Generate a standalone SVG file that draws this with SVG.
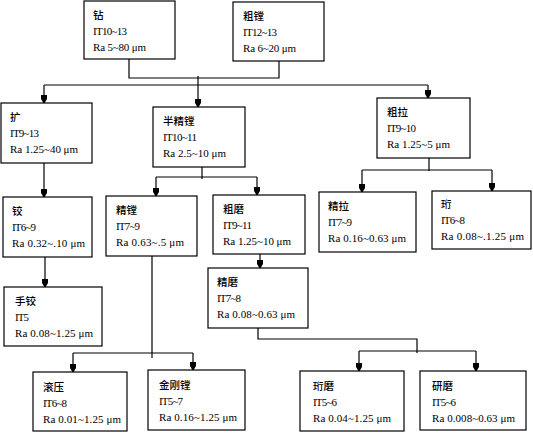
<svg xmlns="http://www.w3.org/2000/svg" width="533" height="434" viewBox="0 0 533 434">
<style>
.box{fill:#fff;stroke:#000;stroke-width:1.2}
.ln{fill:none;stroke:#000;stroke-width:1.2}
.arr{marker-end:url(#ah)}
text{font-family:"Liberation Serif","Noto Sans CJK SC",serif;font-size:11px;fill:#000}
text.zh{font-family:"Noto Sans CJK SC","Liberation Serif",sans-serif;font-size:10.5px;font-weight:500}
</style>
<defs>
<marker id="ah" markerUnits="userSpaceOnUse" markerWidth="10" markerHeight="10" viewBox="0 -5 9 10" refX="8" refY="0" orient="auto">
<path d="M0,-3 L4,-3 L8,-0.6 L8,0.6 L4,3 L0,3 Z" fill="#000"/>
</marker>
</defs>
<rect width="533" height="434" fill="#fff"/>
<g id="connectors">
<path class="ln" d="M129,59 V78 H279 V61"/>
<path class="ln arr" d="M198,76 V107"/>
<path class="ln" d="M44,85 H428"/>
<path class="ln arr" d="M44,85 V103"/>
<path class="ln arr" d="M428,85 V98"/>
<path class="ln arr" d="M44,163 V197"/>
<path class="ln arr" d="M45,257 V287"/>
<path class="ln" d="M202,167 V179"/>
<path class="ln" d="M156,177 H257"/>
<path class="ln arr" d="M156,177 V196"/>
<path class="ln arr" d="M257,177 V195"/>
<path class="ln arr" d="M260,254 V268"/>
<path class="ln" d="M429,158 V171"/>
<path class="ln" d="M362,170 H492"/>
<path class="ln arr" d="M362,170 V192"/>
<path class="ln arr" d="M492,170 V191"/>
<path class="ln" d="M152,256 V358"/>
<path class="ln" d="M73,353 H193"/>
<path class="ln arr" d="M73,353 V372"/>
<path class="ln arr" d="M193,353 V370"/>
<path class="ln" d="M258,328 V339 H417 V353"/>
<path class="ln" d="M359,351 H476"/>
<path class="ln arr" d="M359,351 V371"/>
<path class="ln arr" d="M476,351 V371"/>
</g>
<g id="n-zuan"><rect class="box" x="84" y="1" width="91" height="58"/><text class="zh" x="93" y="19">钻</text><text x="93" y="35" textLength="34" lengthAdjust="spacing">IT10~13</text><text x="93" y="51" textLength="53" lengthAdjust="spacing">Ra 5~80 μm</text></g>
<g id="n-cutang"><rect class="box" x="233" y="2" width="91" height="59"/><text class="zh" x="243" y="20">粗镗</text><text x="243" y="36" textLength="34" lengthAdjust="spacing">IT12~13</text><text x="243" y="52" textLength="53" lengthAdjust="spacing">Ra 6~20 μm</text></g>
<g id="n-kuo"><rect class="box" x="1" y="103" width="91" height="60"/><text class="zh" x="10" y="121">扩</text><text x="10" y="137" textLength="29" lengthAdjust="spacing">IT9~13</text><text x="10" y="153" textLength="68" lengthAdjust="spacing">Ra 1.25~40 μm</text></g>
<g id="n-banjingtang"><rect class="box" x="153" y="107" width="92" height="60"/><text class="zh" x="163" y="125">半精镗</text><text x="163" y="141" textLength="34" lengthAdjust="spacing">IT10~11</text><text x="163" y="157" textLength="63" lengthAdjust="spacing">Ra 2.5~10 μm</text></g>
<g id="n-cula"><rect class="box" x="377" y="98" width="93" height="60"/><text class="zh" x="387" y="116">粗拉</text><text x="387" y="132" textLength="29" lengthAdjust="spacing">IT9~10</text><text x="387" y="148" textLength="63" lengthAdjust="spacing">Ra 1.25~5 μm</text></g>
<g id="n-jiao"><rect class="box" x="3" y="197" width="89" height="60"/><text class="zh" x="12" y="215">铰</text><text x="12" y="231" textLength="24" lengthAdjust="spacing">IT6~9</text><text x="12" y="247" textLength="73" lengthAdjust="spacing">Ra 0.32~.10 μm</text></g>
<g id="n-jingtang"><rect class="box" x="106" y="196" width="91" height="60"/><text class="zh" x="116" y="214">精镗</text><text x="116" y="230" textLength="24" lengthAdjust="spacing">IT7~9</text><text x="116" y="246" textLength="68" lengthAdjust="spacing">Ra 0.63~.5 μm</text></g>
<g id="n-cumo"><rect class="box" x="213" y="195" width="92" height="59"/><text class="zh" x="223" y="213">粗磨</text><text x="223" y="229" textLength="29" lengthAdjust="spacing">IT9~11</text><text x="223" y="245" textLength="68" lengthAdjust="spacing">Ra 1.25~10 μm</text></g>
<g id="n-jingla"><rect class="box" x="319" y="192" width="97" height="60"/><text class="zh" x="328" y="210">精拉</text><text x="328" y="226" textLength="24" lengthAdjust="spacing">IT7~9</text><text x="328" y="242" textLength="78" lengthAdjust="spacing">Ra 0.16~0.63 μm</text></g>
<g id="n-heng"><rect class="box" x="432" y="191" width="99" height="58"/><text class="zh" x="441" y="208">珩</text><text x="441" y="224" textLength="24" lengthAdjust="spacing">IT6~8</text><text x="441" y="240" textLength="83" lengthAdjust="spacing">Ra 0.08~.1.25 μm</text></g>
<g id="n-shoujiao"><rect class="box" x="4" y="287" width="98" height="59"/><text class="zh" x="15" y="305">手铰</text><text x="15" y="321" textLength="14" lengthAdjust="spacing">IT5</text><text x="15" y="337" textLength="78" lengthAdjust="spacing">Ra 0.08~1.25 μm</text></g>
<g id="n-jingmo"><rect class="box" x="208" y="268" width="100" height="60"/><text class="zh" x="217" y="286">精磨</text><text x="217" y="302" textLength="24" lengthAdjust="spacing">IT7~8</text><text x="217" y="318" textLength="78" lengthAdjust="spacing">Ra 0.08~0.63 μm</text></g>
<g id="n-gunya"><rect class="box" x="33" y="372" width="94" height="59"/><text class="zh" x="43" y="391">滚压</text><text x="43" y="407" textLength="24" lengthAdjust="spacing">IT6~8</text><text x="43" y="423" textLength="78" lengthAdjust="spacing">Ra 0.01~1.25 μm</text></g>
<g id="n-jingangtang"><rect class="box" x="148" y="370" width="97" height="60"/><text class="zh" x="159" y="389">金刚镗</text><text x="159" y="405" textLength="24" lengthAdjust="spacing">IT5~7</text><text x="159" y="421" textLength="78" lengthAdjust="spacing">Ra 0.16~1.25 μm</text></g>
<g id="n-hengmo"><rect class="box" x="300" y="371" width="104" height="60"/><text class="zh" x="313" y="390">珩磨</text><text x="313" y="406" textLength="24" lengthAdjust="spacing">IT5~6</text><text x="313" y="422" textLength="78" lengthAdjust="spacing">Ra 0.04~1.25 μm</text></g>
<g id="n-yanmo"><rect class="box" x="420" y="371" width="106" height="59"/><text class="zh" x="432" y="390">研磨</text><text x="432" y="406" textLength="24" lengthAdjust="spacing">IT5~6</text><text x="432" y="422" textLength="83" lengthAdjust="spacing">Ra 0.008~0.63 μm</text></g>
</svg>
